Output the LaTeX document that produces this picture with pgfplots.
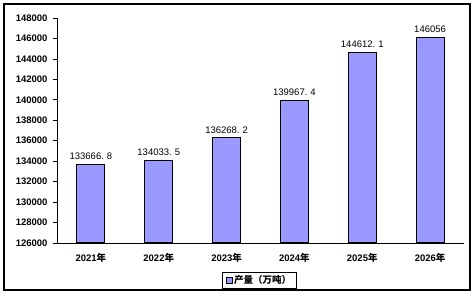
\documentclass[border=0pt]{standalone}
\usepackage{pgfplots}
\pgfplotsset{compat=1.18}
\usepackage{fontspec}
\setmainfont{Liberation Sans}
\newfontfamily\cjk{Noto Sans CJK SC}
\definecolor{barfill}{HTML}{9999FF}
\begin{document}
\begin{tikzpicture}[x=1pt,y=1pt]
\useasboundingbox (0,0) rectangle (475,294);
\draw[line width=1.2pt] (4,4) rectangle (470,290);
\begin{axis}[
  at={(57pt,51pt)}, anchor=south west,
  scale only axis, width=407pt, height=225pt,
  axis x line=bottom, axis y line=left,
  axis line style={-, line width=0.8pt},
  xmin=-0.5, xmax=5.5,
  ymin=126000, ymax=148000,
  ytick={126000,128000,...,148000},
  scaled y ticks=false,
  xtick={0,...,5},
  xticklabels={2021{\cjk 年},2022{\cjk 年},2023{\cjk 年},2024{\cjk 年},2025{\cjk 年},2026{\cjk 年}},
  x tick style={draw=none},
  extra x ticks={0.5,1.5,2.5,3.5,4.5,5.5},
  extra x tick labels={},
  extra x tick style={tick style={draw=black, line width=0.8pt}, tick align=inside, major tick length=3pt},
  y tick style={draw=black, line width=0.8pt},
  tick align=outside, major tick length=4pt,
  tick label style={font=\bfseries\fontsize{9.5}{11}\selectfont},
  xticklabel style={yshift=-3pt},
  yticklabel style={/pgf/number format/1000 sep={}, /pgf/number format/fixed, /pgf/number format/assume math mode=true, xshift=-2pt},
  bar width=28pt,
  nodes near coords,
  every node near coord/.append style={font=\fontsize{9.5}{11}\selectfont, yshift=1pt,
    /pgf/number format/.cd, fixed, precision=1, 1000 sep={}, dec sep={.\hspace{3pt}}, assume math mode=true},
  clip=false,
  legend style={at={(0.4975,-0.165)}, anchor=center, draw=black, line width=0.8pt,
    font=\cjk\bfseries\fontsize{9.5}{11}\selectfont, inner xsep=3pt, inner ysep=1pt,
    legend cell align=left},
  legend image code/.code={\draw[fill=barfill, draw=black, line width=0.5pt] (0pt,-3pt) rectangle (6pt,3pt);},
]
\addplot[ybar, fill=barfill, draw=black, line width=1pt] coordinates {
  (0,133666.8) (1,134033.5) (2,136268.2) (3,139967.4) (4,144612.1) (5,146056)
};
\addlegendentry{产量（万吨）}
\end{axis}
\end{tikzpicture}
\end{document}
